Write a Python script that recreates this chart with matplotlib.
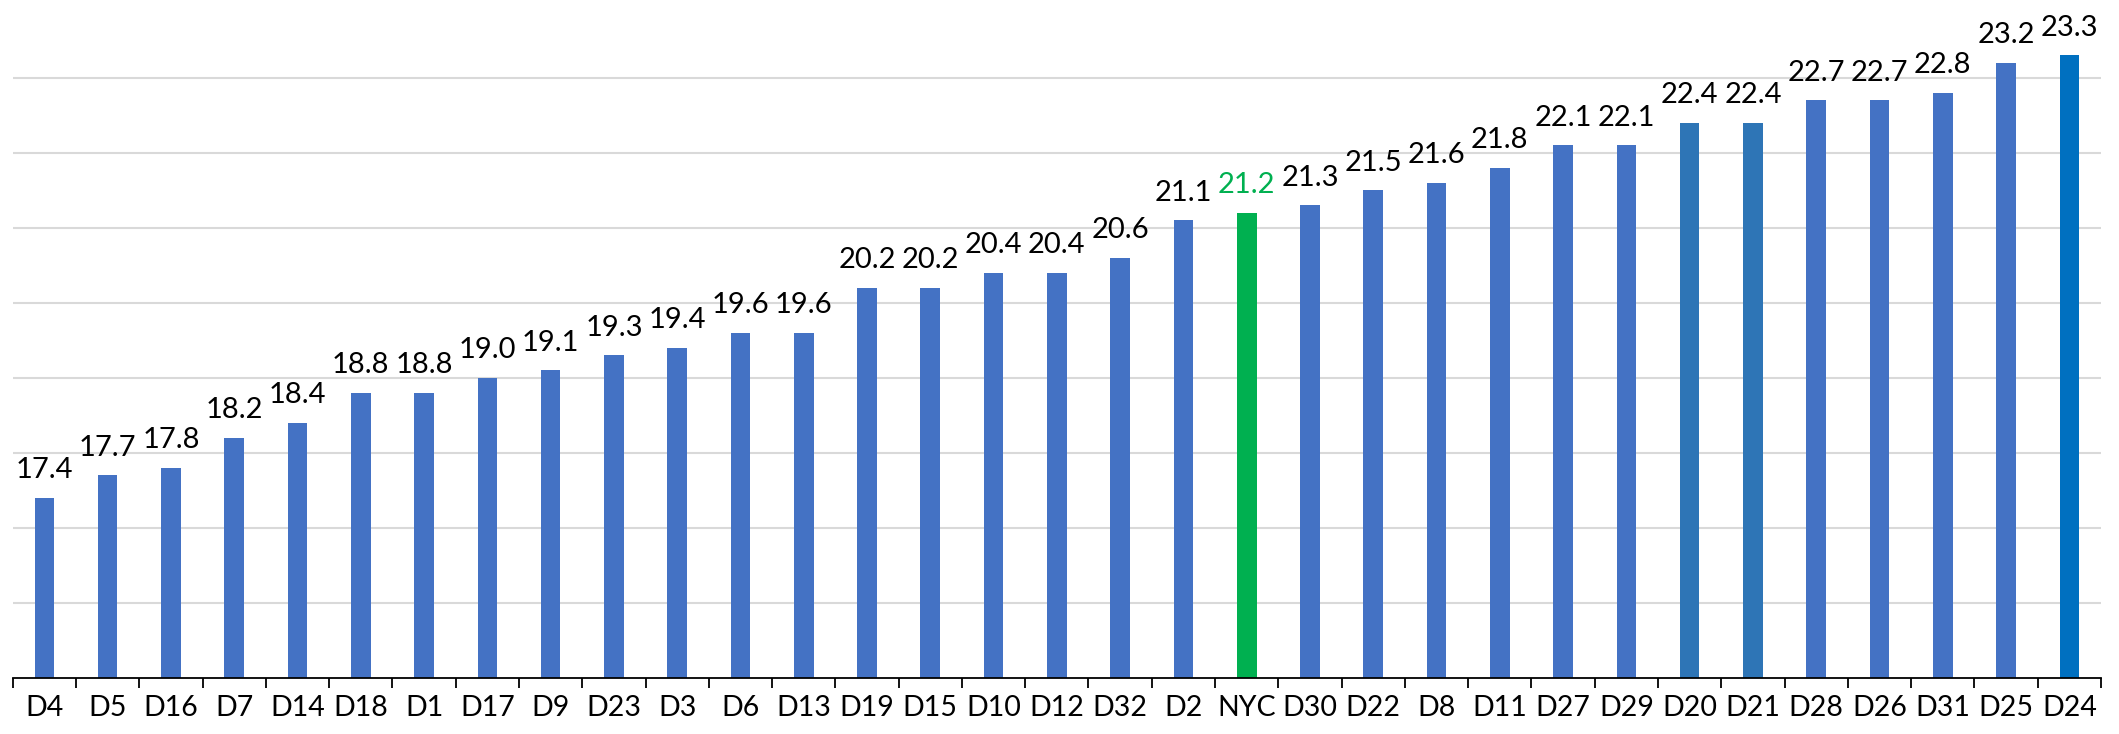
import matplotlib
matplotlib.use("Agg")
import matplotlib.pyplot as plt
import numpy as np

# districts sorted by value
districts = ["D4", "D5", "D16", "D7", "D14", "D18", "D1", "D17", "D9", "D23", "D3",
             "D6", "D13", "D19", "D15", "D10", "D12", "D32", "D2", "NYC", "D30",
             "D22", "D8", "D11", "D27", "D29", "D20", "D21", "D28", "D26", "D31",
             "D25", "D24"]
values = [17.4, 17.7, 17.8, 18.2, 18.4, 18.8, 18.8, 19.0, 19.1, 19.3, 19.4,
          19.6, 19.6, 20.2, 20.2, 20.4, 20.4, 20.6, 21.1, 21.2, 21.3,
          21.5, 21.6, 21.8, 22.1, 22.1, 22.4, 22.4, 22.7, 22.7, 22.8,
          23.2, 23.3]
special_colors = {"NYC": "#00B050", "D20": "#2E75B6", "D21": "#2E75B6", "D24": "#0070C0"}

plt.rcParams['font.family'] = ['Lato', 'DejaVu Sans']

fig = plt.figure(figsize=(21.19, 7.34), dpi=100)
ax = fig.add_axes([0.006, 0.0763, 0.9855, 0.9202])

x = np.arange(len(districts))
cols = [special_colors.get(d, "#4472C4") for d in districts]
ax.bar(x, values, width=0.31, color=cols, zorder=3)

for xi, v, d in zip(x, values, districts):
    ax.annotate("%.1f" % v, (xi, v), xytext=(0, 14), textcoords="offset points",
                ha="center", va="baseline", fontsize=21,
                color="#00B050" if d == "NYC" else "black", annotation_clip=False)

ax.set_ylim(15, 24)
ax.set_xlim(-0.5, len(districts) - 0.5)
ax.set_yticks(np.arange(16, 24))
ax.yaxis.grid(True, color="#D9D9D9", linewidth=1.5, zorder=0)
ax.tick_params(axis="y", left=False, labelleft=False)

ax.set_xticks(x)
ax.set_xticklabels(districts, fontsize=20.5)
ax.set_xticks(np.arange(-0.5, len(districts)), minor=True)
ax.tick_params(axis="x", which="major", length=0, pad=12)
ax.tick_params(axis="x", which="minor", length=7.5, width=1.3, color="black")

for s in ["top", "right", "left"]:
    ax.spines[s].set_visible(False)
ax.spines["bottom"].set_color("black")
ax.spines["bottom"].set_linewidth(1.3)
ax.spines["bottom"].set_zorder(4)

fig.savefig("out.png", dpi=100)
